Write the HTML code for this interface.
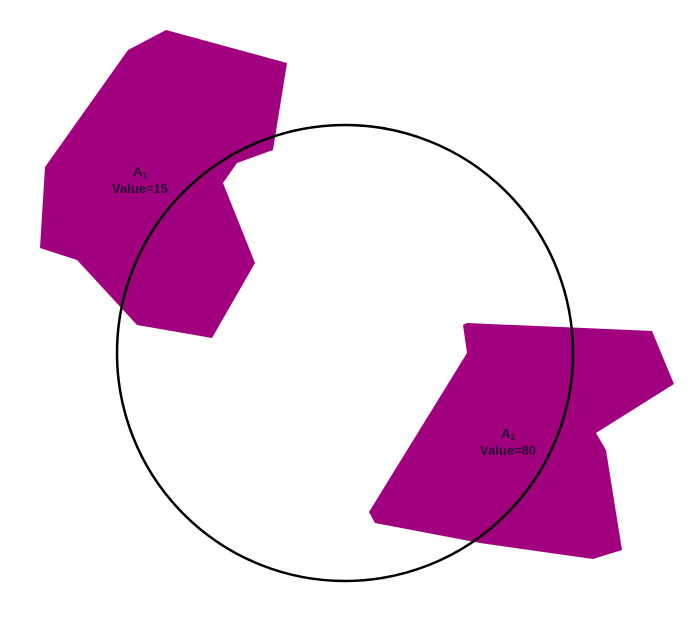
<!DOCTYPE html>
<html><head><meta charset="utf-8"><style>
html,body{margin:0;padding:0;background:#fff;width:690px;height:623px;overflow:hidden}
text{font-family:"Liberation Sans",sans-serif;font-size:13px;font-weight:bold;fill:#2a0f30}
</style></head><body>
<svg id="chart" width="690" height="623" viewBox="0 0 690 623"></svg>
<script>
const regionNames = ["A1", "A2"];
const regionValues = [15, 80];
const regionShapes = [
  [[166,30],[287,63],[273,150],[237,163],[223,183],[255,263],[212,338],[137,325],[77,260],[40,248],[45,167],[128,50]],
  [[467,323],[652,331],[674,384],[596,433],[606,450],[622,550],[593,559],[480,543],[375,523],[369,512],[467,353],[463,325]]
];
const labelAnchors = [[140,176],[508,438]];
const circleCenter = [345,353];
const circleRadius = 228;
const NS = "http://www.w3.org/2000/svg";
const svg = document.getElementById("chart");
regionShapes.forEach((pts, i) => {
  const p = document.createElementNS(NS, "polygon");
  p.setAttribute("points", pts.map(q => q.join(",")).join(" "));
  p.setAttribute("fill", "#a1007f");
  
  
  svg.appendChild(p);
});
const c = document.createElementNS(NS, "circle");
c.setAttribute("cx", circleCenter[0]); c.setAttribute("cy", circleCenter[1]); c.setAttribute("r", circleRadius);
c.setAttribute("fill", "none"); c.setAttribute("stroke", "#000"); c.setAttribute("stroke-width", "2.5");


svg.appendChild(c);
regionNames.forEach((n, i) => {
  const [x, y] = labelAnchors[i];
  const t1 = document.createElementNS(NS, "text");
  t1.setAttribute("x", x); t1.setAttribute("y", y); t1.setAttribute("text-anchor", "middle");
  t1.innerHTML = n[0] + '<tspan font-size="8" dy="2">' + n.slice(1) + '</tspan>';
  
  
  svg.appendChild(t1);
  const t2 = document.createElementNS(NS, "text");
  t2.setAttribute("x", x); t2.setAttribute("y", y + 17); t2.setAttribute("text-anchor", "middle");
  t2.textContent = "Value=" + regionValues[i];
  
  
  svg.appendChild(t2);
});
</script>
</body></html>
